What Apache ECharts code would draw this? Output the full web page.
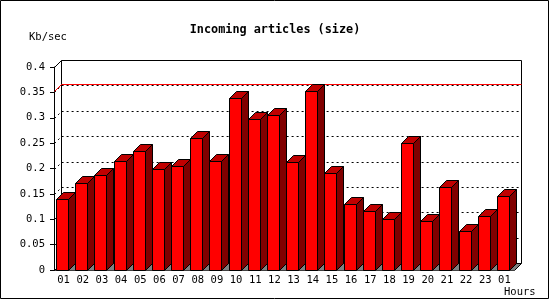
<!DOCTYPE html>
<html><head><meta charset="utf-8">
<script src="https://cdn.jsdelivr.net/npm/echarts/dist/echarts.min.js"></script>
<style>html,body{margin:0;padding:0;background:#fff}#c{width:550px;height:300px}</style>
</head><body><div id="c"></div>
<script>
// ---- data ----
const chartTitle = 'Incoming articles (size)';
const yUnit = 'Kb/sec';
const xUnit = 'Hours';
const hours = ['01','02','03','04','05','06','07','08','09','10','11','12','13','14','15','16','17','18','19','20','21','22','23','01'];
const sizeKbps = [0.139,0.171,0.187,0.214,0.234,0.200,0.204,0.260,0.214,0.338,0.298,0.305,0.212,0.353,0.191,0.130,0.116,0.100,0.250,0.097,0.164,0.077,0.106,0.145];
const gridLevels = [0.05,0.1,0.15,0.2,0.25,0.3,0.35];
const yMin = 0, yMax = 0.4, yStep = 0.05;

// ---- drawing ----
const D = 7;            // 3D depth in px
const FONT = '"DejaVu Sans Mono", monospace';
const peak = Math.max.apply(null, sizeKbps);
const px = v => Math.round(v) + 0.5;

const chart = echarts.init(document.getElementById('c'), null, {renderer: 'canvas'});

function frameItem(params, api) {
  const cs = params.coordSys;
  const x0 = px(cs.x), y0 = px(cs.y), x1 = px(cs.x + cs.width), y1 = px(cs.y + cs.height);
  const lineStyle = {stroke: '#000', lineWidth: 1, fill: null};
  return {type: 'group', children: [
    {type: 'polygon', shape: {points: [[x0, y1], [x1, y1], [x1 + D, y1 - D], [x0 + D, y1 - D]]},
      style: {fill: '#808080', stroke: null}},
    {type: 'rect', shape: {x: x0 + D, y: y0 - D, width: x1 - x0, height: y1 - y0},
      style: lineStyle},
    {type: 'line', shape: {x1: x0, y1: y0, x2: x0 + D, y2: y0 - D}, style: lineStyle},
    {type: 'line', shape: {x1: x0, y1: y1, x2: x0 + D, y2: y1 - D}, style: lineStyle},
    {type: 'line', shape: {x1: x1, y1: y1, x2: x1 + D, y2: y1 - D}, style: lineStyle}
  ]};
}

function levelLine(color, dash) {
  return function (params, api) {
    const cs = params.coordSys;
    const y = px(api.coord([0, api.value(1)])[1]);
    const x0 = px(cs.x), x1 = px(cs.x + cs.width);
    return {type: 'polyline',
      shape: {points: [[x0, y], [x0 + D, y - D], [x1 + D, y - D]]},
      style: {stroke: color, lineWidth: 1, fill: null, lineDash: dash}};
  };
}

function barItem(params, api) {
  const idx = api.value(0);
  const top = api.coord([idx, api.value(1)]);
  const base = api.coord([idx, 0]);
  const w = api.size([1, 0])[0];
  const xl = px(top[0] - w / 2 + 2);
  const xr = xl + 12;
  const yt = px(top[1]);
  const yb = px(base[1]);
  const st = {stroke: '#000', lineWidth: 1};
  return {type: 'group', children: [
    {type: 'polygon', shape: {points: [[xr, yt], [xr + D, yt - D], [xr + D, yb - D], [xr, yb]]},
      style: Object.assign({fill: '#800000'}, st)},
    {type: 'polygon', shape: {points: [[xl, yt], [xl + D, yt - D], [xr + D, yt - D], [xr, yt]]},
      style: Object.assign({fill: '#c00000'}, st)},
    {type: 'rect', shape: {x: xl, y: yt, width: xr - xl, height: yb - yt},
      style: Object.assign({fill: '#ff0000'}, st)}
  ]};
}

chart.setOption({
  animation: false,
  backgroundColor: '#fff',
  title: {
    text: chartTitle, left: 'center', top: 19,
    textStyle: {fontFamily: FONT, fontWeight: 'bold', fontSize: 11.8, color: '#000'}
  },
  graphic: [
    {type: 'rect', shape: {x: 0.5, y: 0.5, width: 548, height: 298},
      style: {fill: null, stroke: '#000', lineWidth: 1}, silent: true},
    {type: 'text', left: 29, top: 32, style: {text: yUnit, font: '10.5px ' + FONT, fill: '#000'}},
    {type: 'text', left: 504, top: 287, style: {text: xUnit, font: '10.5px ' + FONT, fill: '#000'}}
  ],
  grid: {left: 54, top: 67, width: 460, height: 203, containLabel: false},
  xAxis: {
    type: 'category', data: hours,
    axisLine: {lineStyle: {color: '#000', width: 1}},
    axisTick: {length: 4, lineStyle: {color: '#000'}},
    axisLabel: {interval: 0, margin: 5, color: '#000', fontFamily: FONT, fontSize: 10.5},
    splitLine: {show: false}
  },
  yAxis: {
    type: 'value', min: yMin, max: yMax, interval: yStep,
    axisLine: {show: true, lineStyle: {color: '#000', width: 1}},
    axisTick: {show: true, length: 4, lineStyle: {color: '#000'}},
    axisLabel: {margin: 9, color: '#000', fontFamily: FONT, fontSize: 10.5},
    splitLine: {show: false}
  },
  series: [
    {type: 'custom', z: 1, clip: false, silent: true, renderItem: frameItem, data: [[0, 0]]},
    {type: 'custom', z: 2, clip: false, silent: true, renderItem: levelLine('#000', [2, 3]),
      data: gridLevels.map(v => [0, v])},
    {type: 'custom', z: 3, clip: false, silent: true, renderItem: levelLine('#ff0000', null),
      data: [[0, peak]]},
    {type: 'custom', z: 4, clip: false, renderItem: barItem,
      encode: {x: 0, y: 1},
      data: sizeKbps.map((v, i) => [i, v])}
  ]
});
</script>
</body></html>
